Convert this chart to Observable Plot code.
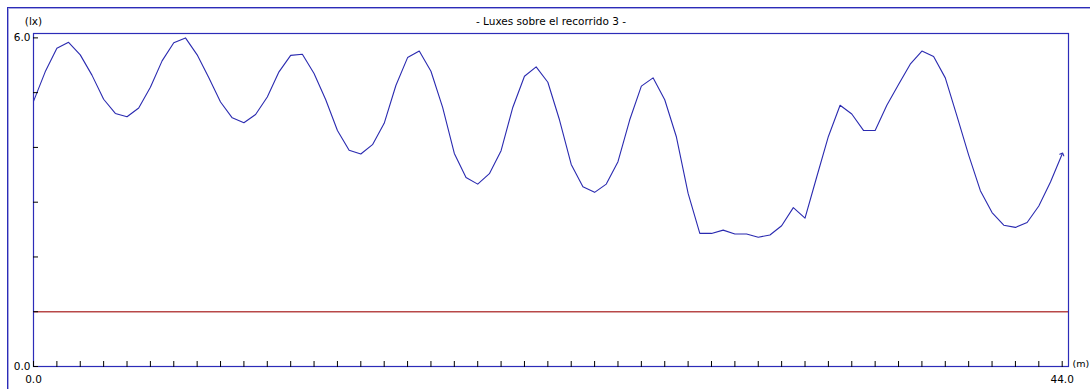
<!DOCTYPE html>
<html>
<head>
<meta charset="utf-8">
<script src="https://cdn.jsdelivr.net/npm/d3@7"></script>
<script src="https://cdn.jsdelivr.net/npm/@observablehq/plot@0.6"></script>
<style>
  html, body { margin: 0; padding: 0; background: #ffffff; overflow: hidden; width: 1090px; height: 389px; }
  #outer { position: absolute; left: 7px; top: 7px; width: 2000px; height: 2000px;
           border-left: 1px solid #2c2cb8; border-top: 1px solid #2c2cb8;
           box-shadow: inset 1px 1px 0 #a8a8e2; }
  #chart { position: absolute; left: 0; top: 0; }
</style>
</head>
<body>
<div id="outer"></div>
<div id="chart"></div>
<script>
// ---- data ----
const distance = [
  0, 0.5, 1, 1.5, 2, 2.5, 3, 3.5, 4, 4.5, 5, 5.5, 6, 6.5, 7, 7.5, 8, 8.5, 9, 9.5,
  10, 10.5, 11, 11.5, 12, 12.5, 13, 13.5, 14, 14.5, 15, 15.5, 16, 16.5, 17, 17.5, 18, 18.5, 19, 19.5,
  20, 20.5, 21, 21.5, 22, 22.5, 23, 23.5, 24, 24.5, 25, 25.5, 26, 26.5, 27, 27.5, 28, 28.5, 29, 29.5,
  30, 30.5, 31, 31.5, 32, 32.5, 33, 33.5, 34, 34.5, 35, 35.5, 36, 36.5, 37, 37.5, 38, 38.5, 39, 39.5,
  40, 40.5, 41, 41.5, 42, 42.5, 43, 43.5, 44
];
const lux = [
  4.84, 5.38, 5.81, 5.92, 5.69, 5.32, 4.88, 4.62, 4.56, 4.72,
  5.10, 5.58, 5.91, 6.00, 5.69, 5.27, 4.83, 4.54, 4.45, 4.60,
  4.92, 5.38, 5.68, 5.70, 5.35, 4.87, 4.31, 3.95, 3.88, 4.05,
  4.44, 5.13, 5.64, 5.76, 5.39, 4.73, 3.89, 3.45, 3.33, 3.52,
  3.94, 4.73, 5.30, 5.47, 5.19, 4.50, 3.69, 3.28, 3.18, 3.33,
  3.74, 4.50, 5.12, 5.27, 4.87, 4.19, 3.16, 2.43, 2.43, 2.49,
  2.42, 2.42, 2.36, 2.40, 2.57, 2.90, 2.71, 3.46, 4.20, 4.77,
  4.61, 4.31, 4.31, 4.77, 5.15, 5.52, 5.76, 5.66, 5.27, 4.57,
  3.86, 3.21, 2.81, 2.58, 2.54, 2.63, 2.93, 3.37, 3.88
];
const threshold = [1.0];
const yTickValues = [0, 1, 2, 3, 4, 5, 6];
const yLabelValues = [0, 6];
const xTickValues = [0, 1, 2, 3, 4, 5, 6, 7, 8, 9, 10, 11, 12, 13, 14, 15, 16, 17, 18, 19, 20, 21,
  22, 23, 24, 25, 26, 27, 28, 29, 30, 31, 32, 33, 34, 35, 36, 37, 38, 39, 40, 41, 42, 43, 44];
const xLabelValues = [0, 44];
const titleText = ["- Luxes sobre el recorrido 3 -"];
const yUnit = ["(lx)"];
const xUnit = ["(m)"];

const rows = distance.map((d, i) => ({distance: d, lux: lux[i]}));

const blue = "#2c2cb8";
const lineBlue = "#2a2ab0";
const red = "#b84848";
const fs = 10.5;

const chart = Plot.plot({
  width: 1090,
  height: 389,
  marginLeft: 33,
  marginRight: 22,
  marginTop: 33,
  marginBottom: 23,
  style: {fontFamily: "'DejaVu Sans', Verdana, sans-serif", fontSize: fs + "px", background: "transparent", overflow: "visible", color: "#000"},
  x: {domain: [0, 44.27]},
  y: {domain: [0, 6.08]},
  marks: [
    Plot.ruleY(threshold, {stroke: red, strokeWidth: 1.5}),
    Plot.line(rows, {x: "distance", y: "lux", stroke: lineBlue, strokeWidth: 1.1, markerEnd: "arrow"}),
    Plot.frame({stroke: blue, strokeWidth: 1.2}),
    // y ticks (inward)
    Plot.axisY(yTickValues, {tickSize: 5, insetLeft: 5, fill: "none", stroke: "#000", label: null}),
    // y labels
    Plot.axisY(yLabelValues, {tickSize: 0, tickPadding: 3, tickFormat: d => d.toFixed(1), label: null, fontSize: fs}),
    // x ticks (crossing upward)
    Plot.axisX(xTickValues, {tickSize: 6, insetBottom: 5, fill: "none", stroke: "#000", label: null}),
    // x labels
    Plot.axisX(xLabelValues, {tickSize: 0, tickPadding: 9, tickFormat: d => d.toFixed(1), label: null, fontSize: fs}),
    // title and unit labels
    Plot.text(titleText, {text: d => d, frameAnchor: "top", dy: -9, lineAnchor: "bottom", fontSize: fs, fill: "#000"}),
    Plot.text(yUnit, {text: d => d, frameAnchor: "top-left", dy: -9, lineAnchor: "bottom", textAnchor: "middle", fontSize: fs, fill: "#000"}),
    Plot.text(xUnit, {text: d => d, frameAnchor: "bottom-right", dx: 4, dy: -3, lineAnchor: "middle", textAnchor: "start", fontSize: 9.5, fill: "#000"})
  ]
});
document.getElementById("chart").appendChild(chart);
</script>
</body>
</html>
